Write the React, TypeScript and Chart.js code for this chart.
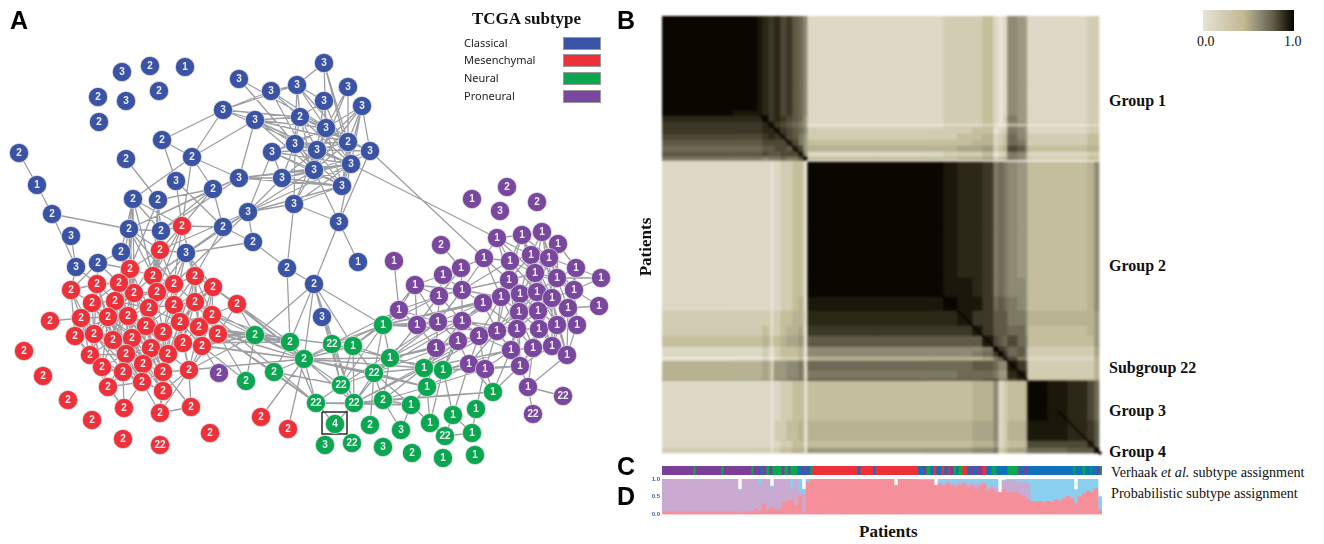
import React, { useEffect, useRef } from "react";
import { Chart, registerables } from "chart.js";

Chart.register(...registerables);

// ---------- Panel A: network nodes (layout coordinates) ----------
const classicalX = [122,150,185,159,98,126,99,19,37,52,71,76,98,121,129,161,186,133,158,176,126,162,192,213,239,223,248,253,287,223,239,271,255,297,324,348,324,362,300,326,348,370,317,295,272,282,314,351,342,294,339,358,314,322];
const classicalY = [72,66,67,91,97,101,122,153,185,214,236,267,263,252,229,231,253,199,200,181,159,140,157,189,178,227,212,242,268,110,79,91,120,85,63,87,101,106,117,128,142,151,150,144,152,178,170,164,186,204,222,262,284,317];
const classicalTags = ["3","2","1","2","2","3","2","2","1","2","3","3","2","2","2","2","3","2","2","3","2","2","2","2","3","2","3","2","2","3","3","3","3","3","3","3","3","3","2","3","2","3","3","3","3","3","3","3","3","3","3","1","2","3"];

const mesenchymalX = [182,160,130,153,195,213,174,157,134,119,97,71,92,115,149,174,195,237,212,81,108,128,146,180,199,218,50,75,94,113,132,163,183,202,151,168,126,90,143,102,123,163,189,108,142,163,124,160,191,24,43,68,92,123,160,210,261,288];
const mesenchymalY = [226,250,269,276,276,287,284,292,293,283,284,290,303,301,308,305,302,304,315,318,317,316,326,322,327,334,321,336,334,340,338,332,343,346,348,354,354,355,364,367,372,372,370,387,382,391,408,413,407,351,376,400,420,439,445,433,417,429];
const mesenchymalTags = ["2","2","2","2","2","2","2","2","2","2","2","2","2","2","2","2","2","2","2","2","2","2","2","2","2","2","2","2","2","2","2","2","2","2","2","2","2","2","2","2","2","2","2","2","2","2","2","2","2","2","2","2","2","2","22","2","2","2"];

const neuralX = [255,290,304,274,246,316,332,353,383,390,374,341,354,383,411,427,424,443,493,476,453,430,401,370,335,325,352,383,412,443,475,445,472];
const neuralY = [335,342,359,372,381,403,344,346,325,358,373,385,403,400,405,387,368,370,392,409,415,423,430,425,424,445,443,447,453,458,455,436,433];
const neuralTags = ["2","2","2","2","2","22","22","1","1","1","22","22","22","2","1","1","1","1","1","1","1","1","3","2","4","3","22","3","2","1","1","22","1"];

const proneuralX = [472,507,500,537,441,394,497,522,542,558,484,510,531,549,461,443,415,462,439,399,535,509,557,576,601,599,574,501,483,520,537,552,568,519,538,417,438,462,517,497,539,557,577,479,458,436,511,533,552,567,520,469,485,528,563,533,219];
const proneuralY = [199,187,211,202,245,261,238,235,232,244,258,261,255,258,268,275,285,290,296,310,273,280,278,268,278,306,290,297,303,294,292,298,308,312,311,325,322,321,329,331,329,325,325,336,341,348,350,348,346,355,366,364,369,387,396,414,373];
const proneuralTags = ["1","2","3","2","2","1","1","1","1","1","1","1","1","1","1","1","1","1","1","1","1","1","1","1","1","1","1","1","1","1","1","1","1","1","1","1","1","1","1","1","1","1","1","1","1","1","1","1","1","1","1","1","1","1","22","22","2"];

const subtypeNames = ["Classical", "Mesenchymal", "Neural", "Proneural"];

// edges: source>targets (targets inherit the source's subtype letter unless prefixed)
const networkEdges =
  "b7>8 b8>9 b9>14,11 b10>11 b20>18 b21>19,22,29 b22>17,23,24,29,32,r0 b17>14,r0,15,13 b18>15,23 b19>r0,25 b23>24,25,r0 b14>23,24 b15>23,24 " +
  "b24>45,46,47,48 b25>26,27,r0,16 b26>44,45,46,47,48,49,r1 b27>28,16,26 b32>24,38,39,40,46,47,43,42 b29>32,33,38,42,31 b30>39,43 b31>38,40,46,33 " +
  "b33>34,36,38,39,43,40 b34>47,40,39 b35>39,40,46 b36>38,39,47,42 b37>39,40,47,46,42,41,48 b38>39,40,42,43,46,47 b39>40,41,42,43,44,46,47,48 " +
  "b40>41,42,43,46,47,48 b41>42,46,47,50,p10 b42>43,44,46,47,48,45,49 b43>44,45,46,47,48,49 b44>45,46,47,48 b45>46,47,48 b46>47,48,49,50 b47>48,49,50,p6 " +
  "b48>49 b49>50,28 b50>51,52 b52>28,g0,g1,g2,g6,g7,g8,g11,g12 b28>g1 " +
  "b13>12,r2,r8 b14>15,r1,r3,r6,r2,r9,r8 b15>r1,r3,r0 b16>r1,r3,r4,r5,r6,r7,r15 b12>r2,r9,r10,r11 b11>r11,r10 b17>r2,r3,r7,r8 b18>r2,r3,r7 b25>r4 b26>r3,r6 " +
  "r0>1,3,6,7,4 r1>3,6,7,8,14,2 r2>3,8,9,13,14,21,22,30,29 r3>6,7,8,14,15,22,31,23 r4>5,6,7,15,16,18,23,24,32 r5>15,16,18,23,24,33 r6>7,14,15,16,23,31,22 " +
  "r7>8,13,14,15,21,22,30 r8>9,13,14,20,21,22,30,29 r9>10,12,13,20,21,28,29,30 r10>11,12,13,19,20,28,29 r11>12,19,27,28 r12>13,19,20,27,28,29,36,30 " +
  "r13>14,20,21,22,29,30,36,34 r14>15,21,22,23,30,31,34,35 r15>16,22,23,24,31,32,35,41 r16>18,23,24,33,25,32,35 r17>18,25 r18>23,24,25,33 " +
  "r19>20,26,27,28,37,29,39 r20>21,27,28,29,30,36,37,34,38,39 r21>22,29,30,31,34,36,38,40,35 r22>23,30,31,34,35,36,38,41,44,40 r23>24,31,32,33,35,41,42 " +
  "r24>25,32,33,42 r25>33,42 r27>28,29,37,39 r28>29,36,37,39,40,43,44 r29>30,36,37,39,40,44,38 r30>31,34,36,38,40,44,41,45 r31>32,34,35,38,41,44,45 " +
  "r32>33,35,41,42 r33>42 r34>35,36,38,41,44,45 r35>38,41,42,45 r36>37,38,39,40,43,44 r37>39,40,43 r38>40,41,44,45 r39>40,43,44 r40>43,44,45,46 " +
  "r41>42,44,45,47 r42>45,47,48 r43>44,46 r44>45,46,47 r45>47 r46>44 r47>42,48 r48>41 " +
  "r17>g0,g1,g2 r5>g1,g2 r18>g1,g2,g5 r24>g1,g2,g6 r25>g0,g1,g2,g3,g4,g5 r33>g0,g2,p56,g4 r42>g0,g2 r56>g2 r57>g2 r16>g2 r32>g2,g1 " +
  "g0>1,2,4 g1>2,3,5 g2>3,5,6,7,8,9,10,11,12,15,16 g3>5,11 g6>8,11,9,12,p19 g7>8,10,11,12,9,p19 g8>9,10,11,p19,p16,p18,p35,p36,p28,p27,p39 " +
  "g9>10,12,13,p35,p36,p45,16,17,p39,p27 g10>11,12,13,15,14,23,p44,p37 g11>12,5,p36 g12>5,13,14,16,p43,p39 g13>14,22,15,p44 g14>15,22,21 " +
  "g15>16,21,p45,p51,p52 g16>17,p45,p44,10,p37,p39,p46 g17>p51,p44,p37,20,21,p46,p50,p52 g18>p52,p51,12,13,p50,p46 g19>p52,32 g20>31,p51,32 g31>32,21 g24>12,5 g5>12,14 " +
  "p4>14 p5>19 p14>10,17,18 p15>16,17,18,10,14 p16>17,18,19,35,36 p17>18,10,21,27,28,11,36,37 p18>19,35,36,37 p19>35,36 p35>36,45 p36>37,45,28,44 " +
  "p37>28,27,43,44,39,38 p28>27,29,39,38,21 p10>6,11,21,27 p6>7,11,12,21,20 p7>8,11,12,13,20,21,30 p8>9,12,13,20,22,31 p9>13,22,23,20 p11>12,20,21,29,27,30,33 " +
  "p12>13,20,21,29,30,22,31 p13>20,22,23,26,30,31 p20>21,22,26,29,30,31,33,34,40,41 p21>27,29,30,33,38,39 p22>23,26,24,30,31,32 p23>24,26,32 p24>26 p25>26,32 " +
  "p26>31,32,41,42 p27>29,33,38,39,43 p29>30,33,34,38,40,39,46 p30>31,33,34,40,41,38,47 p31>32,34,40,41,48,47,49 p32>41,42,48,49 p33>34,38,39,40,46,47,43,50 " +
  "p34>38,40,41,47,48 p38>39,40,43,46,47,50 p39>43,44,46,52,51 p40>41,47,48,49 p41>42,48,49 p42>49 p43>44,46,51,52 p44>45,51 p46>47,50,52 p47>48,50,53 " +
  "p48>49,50 p49>53 p50>52,53 p51>52 p53>54,55";

// ---------- Panel B: co-clustering matrix, run-length coded over patient bands ----------
const bandEdges = [0,70,95,100,106,112,118,124,130,136,141,145,215,262,281,295,310,320,331,336,341,345,355,363,365,385,405,425,432,437];
const coClusterRows = [
  "ffedcdbca97"+"1112223101765"+"11122",
  "ffedcdbca97"+"1112223101765"+"11122",
  "feedcdbca97"+"1112223101765"+"11122",
  "dddfcdcba96"+"1112223102865"+"11122",
  "cccdecba986"+"1112223101765"+"11122",
  "cccddecba97"+"2222233012875"+"11122",
  "bbbcdcdba86"+"2222334123976"+"22233",
  "aaabbbbdb86"+"3333344123986"+"22233",
  "999aabbadb6"+"4444556234ba7"+"33344",
  "aaabaabbbd7"+"1112223012875"+"11122",
  "888788988ae"+"3333445234875"+"22233",
  "11111122331"+"fffeddc898766"+"33347",
  "11111122331"+"fffeddc898766"+"33347",
  "11111122331"+"fffeedc898776"+"33347",
  "11111122341"+"eeefeec9a9876"+"33347",
  "22222233442"+"ddddeccaaa887"+"44446",
  "22232234451"+"cccccecaaa997"+"33346",
  "33343345562"+"aaaaaaeba9b98"+"33336",
  "11121233341"+"7777778fcb9a7"+"22225",
  "11121233341"+"7777789cfc9a7"+"22225",
  "00010122230"+"44444458adb86"+"11114",
  "44454667783"+"99999aa977eca"+"22224",
  "44454667783"+"8888999866deb"+"22224",
  "55565778894"+"aaaaaabb88bce"+"33335",
  "11111122332"+"3333344712334"+"fedb9",
  "11111122332"+"3333344712334"+"fedb9",
  "11111223342"+"4444455712445"+"eedca",
  "11111122332"+"3333344612334"+"bbbda",
  "22222233443"+"6666677823556"+"99aaf",
];
const diagonalRuns = [[98,99,145,144],[275,274,365,364],[395,394,438,437]];
const lightStripes = [[144,145,438,145],[144,145,144,437],[110,145,110,437],[145,109,437,109]];
const colourBarTicks = ["0.0", "1.0"];
const groupNames = ["Group 1", "Group 2", "Subgroup 22", "Group 3", "Group 4"];

// ---------- Panel C ----------
const verhaakEnds = [31,33,59,61,89,91,97,100,104,107,110,119,122,126,128,135,139,141,144,146,148,150,195,198,211,213,256,261,264,268,271,274,279,282,286,288,291,294,296,300,305,308,311,314,320,324,329,334,345,356,358,362,365,411,413,420,423,428,429,435,438,440];
const verhaakTypes = "PGPGPGPBPGPGPGPGBPBPBGRBRBRBPGBRBRBRPGBGRBPBPRBGBGPBPBGBGBGBPG";

// ---------- Panel D ----------
const pMesenchymal = [.07,.07,.07,.07,.07,.07,.07,.07,.07,.07,.07,.07,.07,.07,.07,.07,.07,.07,.07,.04,.07,.07,.08,.15,.1,.3,.12,.2,.14,.12,.33,.38,.42,.25,.5,.04,.93,.97,.99,.99,.99,.99,.99,.99,.99,.99,.99,.99,.99,.99,.99,.99,.99,.99,.99,.99,.99,.99,.8,.99,.99,.99,.98,.98,.97,.96,.95,.96,.8,.84,.78,.88,.8,.76,.82,.86,.74,.8,.7,.78,.85,.66,.72,.6,.62,.7,.62,.6,.62,.55,.5,.42,.36,.35,.36,.34,.36,.34,.42,.38,.44,.5,.45,.3,.5,.58,.66,.62,.72,.1];
const pProneural = [.93,.93,.93,.93,.93,.93,.93,.93,.93,.93,.93,.93,.93,.93,.93,.93,.93,.93,.93,.62,.93,.93,.92,.85,.72,.7,.88,.55,.84,.88,.67,.62,.3,.75,.15,.55,0,0,0,0,0,0,0,0,0,0,0,0,0,0,0,0,0,0,0,0,0,0,0,0,0,0,0,0,0,0,0,0,0,.05,.08,.04,.06,.1,.08,.06,.12,.08,.15,.08,.05,.1,.1,.14,0,.22,.34,.35,.32,.38,.42,.45,0,0,0,0,0,0,0,0,0,0,0,0,0,0,0,0,0,.05];
const pClassical = [0,0,0,0,0,0,0,0,0,0,0,0,0,0,0,0,0,0,0,.05,0,0,0,0,.18,0,0,.05,.02,0,0,0,.28,0,.35,.12,.07,.03,.01,.01,.01,.01,.01,.01,.01,.01,.01,.01,.01,.01,.01,.01,.01,.01,.01,.01,.01,.01,.02,.01,.01,.01,.02,.02,.03,.04,.05,.04,.02,.11,.14,.08,.14,.14,.1,.08,.14,.12,.15,.14,.1,.24,.18,.26,0,.05,.04,.05,.06,.07,.08,.13,.64,.65,.64,.66,.64,.66,.58,.62,.56,.5,.55,.4,.5,.42,.34,.38,.28,.35];
const probabilityTicks = ["1.0", "0.5", "0.0"];

// ---------- styles ----------
const NODE = { b: "#3a53a4", r: "#ee3039", g: "#0aa650", p: "#7a479e" };
const STRIP: Record<string, string> = { P: "#7b3f98", G: "#0aa650", B: "#0f72ba", R: "#ee3039" };
const RAMP = ["#e8e5d8","#dcd8c5","#d2cdb2","#c4be9c","#b8b292","#aaa588","#9c987f","#8d8a73","#7d7a64","#6e6a55","#5e5a46","#4d4937","#3c3828","#2c2817","#1a170b","#0a0700"];
const SERIF = '"Liberation Serif", serif';
const SANS = '"Liberation Sans", sans-serif';

const noPlugins = { legend: { display: false }, tooltip: { enabled: false }, title: { display: false } };
const hidden = (extra: any) => ({ display: false, grid: { display: false }, offset: false, ...extra });

function buildNetworkChart(canvas: HTMLCanvasElement) {
  const coords: Record<string, { x: number[]; y: number[] }> = {
    b: { x: classicalX, y: classicalY },
    r: { x: mesenchymalX, y: mesenchymalY },
    g: { x: neuralX, y: neuralY },
    p: { x: proneuralX, y: proneuralY },
  };
  const edgePoints: any[] = [];
  for (const tok of networkEdges.split(" ")) {
    if (!tok) continue;
    const [src, targets] = tok.split(">");
    const sk = src[0];
    const si = +src.slice(1);
    for (const t of targets.split(",")) {
      const hasPrefix = /^[brgp]/.test(t);
      const tk = hasPrefix ? t[0] : sk;
      const ti = +(hasPrefix ? t.slice(1) : t);
      edgePoints.push(
        { x: coords[sk].x[si], y: coords[sk].y[si] },
        { x: coords[tk].x[ti], y: coords[tk].y[ti] },
        { x: coords[tk].x[ti], y: null },
      );
    }
  }
  const nodeSet = (label: string, xs: number[], ys: number[], tags: string[], color: string) => ({
    label,
    data: xs.map((x, i) => ({ x, y: ys[i], tag: tags[i] })),
    backgroundColor: color,
    borderColor: "rgba(225,225,230,0.9)",
    borderWidth: 0.8,
    pointRadius: 9.6,
    order: 1,
  });
  const tagPlugin = {
    id: "nodeTags",
    afterDatasetsDraw(chart: any) {
      const ctx = chart.ctx;
      ctx.save();
      ctx.textAlign = "center";
      ctx.textBaseline = "middle";
      ctx.fillStyle = "#eef1f8";
      ctx.font = `bold 10px ${SANS}`;
      chart.data.datasets.forEach((ds: any, di: number) => {
        if (!ds.isNodes) return;
        const meta = chart.getDatasetMeta(di);
        meta.data.forEach((el: any, i: number) => {
          ctx.fillText(ds.data[i].tag, el.x, el.y + 0.5);
        });
      });
      ctx.restore();
    },
  };
  return new Chart(canvas, {
    type: "scatter",
    data: {
      datasets: [
        { label: "edges", data: edgePoints, showLine: true, spanGaps: false, borderColor: "#9c9ea1", borderWidth: 1.3, pointRadius: 0, order: 5 },
        { label: "marker", data: [{ x: 322, y: 412 }, { x: 347, y: 412 }, { x: 347, y: 434 }, { x: 322, y: 434 }, { x: 322, y: 412 }], showLine: true, borderColor: "#2b2b2b", borderWidth: 1.5, pointRadius: 0, order: 3 },
        { ...nodeSet(subtypeNames[0], classicalX, classicalY, classicalTags, NODE.b), isNodes: true },
        { ...nodeSet(subtypeNames[1], mesenchymalX, mesenchymalY, mesenchymalTags, NODE.r), isNodes: true },
        { ...nodeSet(subtypeNames[2], neuralX, neuralY, neuralTags, NODE.g), isNodes: true },
        { ...nodeSet(subtypeNames[3], proneuralX, proneuralY, proneuralTags, NODE.p), isNodes: true },
      ] as any,
    },
    options: {
      animation: false, responsive: false, events: [],
      layout: { padding: 0, autoPadding: false },
      plugins: noPlugins as any,
      scales: {
        x: hidden({ type: "linear", min: 0, max: 640 }),
        y: hidden({ type: "linear", min: 0, max: 544, reverse: true }),
      } as any,
    },
    plugins: [tagPlugin] as any,
  });
}

function buildHeatmapChart(canvas: HTMLCanvasElement) {
  const datasets: any[] = [];
  for (let c = 0; c < bandEdges.length - 1; c++) {
    const x0 = bandEdges[c];
    const x1 = bandEdges[c + 1];
    datasets.push({
      type: "bar",
      data: coClusterRows.map((_, r) => ({ x: (x0 + x1) / 2, y: [bandEdges[r], bandEdges[r + 1]] })),
      backgroundColor: coClusterRows.map((row) => RAMP[parseInt(row[c], 16)]),
      barThickness: x1 - x0,
      grouped: false,
      order: 5,
    });
  }
  for (const [a, b, c, d] of diagonalRuns) {
    datasets.push({ type: "line", data: [{ x: a, y: b }, { x: c, y: d }], borderColor: "#050300", borderWidth: 1.6, pointRadius: 0, order: 1 });
  }
  lightStripes.forEach(([a, b, c, d], i) => {
    datasets.push({ type: "line", data: [{ x: a, y: b }, { x: c, y: d }], borderColor: "#f4f2ea", borderWidth: i < 2 ? 1.5 : 1.2, pointRadius: 0, order: 2 });
  });
  datasets.push({ type: "scatter", data: [{ x: 438, y: 437 }], pointStyle: "rect", pointRadius: 2.2, backgroundColor: "#000", borderWidth: 0, order: 0 });
  return new Chart(canvas, {
    type: "bar",
    data: { datasets },
    options: {
      animation: false, responsive: false, events: [],
      layout: { padding: 0, autoPadding: false },
      plugins: noPlugins as any,
      scales: {
        x: hidden({ type: "linear", min: 0, max: 442 }),
        y: hidden({ type: "linear", min: 0, max: 442, reverse: true }),
      } as any,
    },
  });
}

function buildStripChart(canvas: HTMLCanvasElement) {
  const datasets = verhaakEnds.map((end, i) => ({
    data: [[i === 0 ? 0 : verhaakEnds[i - 1], end]],
    backgroundColor: STRIP[verhaakTypes[i]],
    grouped: false,
    barPercentage: 1,
    categoryPercentage: 1,
  }));
  return new Chart(canvas, {
    type: "bar",
    data: { labels: ["Verhaak"], datasets: datasets as any },
    options: {
      indexAxis: "y", animation: false, responsive: false, events: [],
      layout: { padding: 0 },
      plugins: noPlugins as any,
      scales: {
        x: hidden({ type: "linear", min: 0, max: 440 }),
        y: { display: false, grid: { display: false } },
      } as any,
    },
  });
}

function buildProbabilityChart(canvas: HTMLCanvasElement) {
  const patient = pMesenchymal.map((_, i) => String(i + 1));
  const part = (data: number[], color: string, label: string) => ({
    label, data, backgroundColor: color, barPercentage: 1, categoryPercentage: 1, stack: "p",
  });
  return new Chart(canvas, {
    type: "bar",
    data: {
      labels: patient,
      datasets: [
        part(pMesenchymal, "#f58f99", "Mesenchymal"),
        part(pProneural, "#c9aad0", "Proneural"),
        part(pClassical, "#8ad0ee", "Classical"),
      ],
    },
    options: {
      animation: false, responsive: false, events: [],
      layout: { padding: { top: 9, bottom: 4, left: 0, right: 0 } },
      plugins: noPlugins as any,
      scales: {
        x: { display: false, stacked: true, grid: { display: false } },
        y: {
          stacked: true, min: 0, max: 1,
          grid: { display: false, drawTicks: false }, border: { display: false },
          afterFit: (s: any) => { s.width = 22; },
          afterBuildTicks: (s: any) => { s.ticks = probabilityTicks.map((t) => ({ value: +t })); },
          ticks: { callback: (v: any) => Number(v).toFixed(1), font: { size: 6, weight: "bold", family: SANS }, color: "#3b5f8f", padding: 2, autoSkip: false },
        },
      } as any,
    },
  });
}

function Label(p: { x: number; y: number; children: React.ReactNode; style?: React.CSSProperties }) {
  return (
    <div style={{ position: "absolute", left: p.x, top: p.y, transform: "translateY(-50%)", whiteSpace: "nowrap", lineHeight: 1, color: "#111", fontFamily: SERIF, ...p.style }}>
      {p.children}
    </div>
  );
}

export default function App() {
  const net = useRef<HTMLCanvasElement>(null);
  const heat = useRef<HTMLCanvasElement>(null);
  const strip = useRef<HTMLCanvasElement>(null);
  const prob = useRef<HTMLCanvasElement>(null);

  useEffect(() => {
    const charts = [
      buildNetworkChart(net.current!),
      buildHeatmapChart(heat.current!),
      buildStripChart(strip.current!),
      buildProbabilityChart(prob.current!),
    ];
    return () => charts.forEach((c) => c.destroy());
  }, []);

  const legendColors = [NODE.b, NODE.r, NODE.g, NODE.p];
  const legendY = [43, 60, 78, 96];
  const panel = { fontFamily: SANS, fontWeight: 700, fontSize: 25, color: "#000" } as React.CSSProperties;
  const group = { fontWeight: 700, fontSize: 16 } as React.CSSProperties;
  const groupY = [101, 266, 368, 411, 452];

  return (
    <div style={{ position: "fixed", left: 0, top: 0, width: 1324, height: 544, background: "#fff", overflow: "hidden" }}>
      <canvas ref={net} width={640} height={544} style={{ position: "absolute", left: 0, top: 0, filter: "blur(0.35px)" }} />
      <canvas ref={heat} width={442} height={442} style={{ position: "absolute", left: 662, top: 16, filter: "blur(0.8px)" }} />
      <canvas ref={strip} width={440} height={9} style={{ position: "absolute", left: 662, top: 466 }} />
      <canvas ref={prob} width={462} height={50} style={{ position: "absolute", left: 640, top: 470, filter: "blur(0.3px)" }} />

      <Label x={10} y={20} style={panel}>A</Label>
      <Label x={617} y={20} style={panel}>B</Label>
      <Label x={617} y={466} style={panel}>C</Label>
      <Label x={617} y={496} style={panel}>D</Label>

      <Label x={472} y={18} style={{ fontWeight: 700, fontSize: 17 }}>TCGA subtype</Label>
      {subtypeNames.map((n, i) => (
        <React.Fragment key={n}>
          <Label x={464} y={legendY[i] - 1} style={{ fontFamily: '"Noto Sans", sans-serif', fontSize: 11, color: "#222" }}>{n}</Label>
          <div style={{ position: "absolute", left: 563, top: legendY[i] - 6, width: 36, height: 11, background: legendColors[i], border: "1px solid #9a9a9a" }} />
        </React.Fragment>
      ))}

      <div style={{ position: "absolute", left: 1203, top: 10, width: 91, height: 21, background: "linear-gradient(to right,#e6e3d3 0%,#d4cfb6 20%,#c2b892 45%,#8d8a73 62%,#5e5a46 78%,#2c2817 90%,#050300 100%)" }} />
      <Label x={1197} y={42} style={{ fontSize: 14 }}>{colourBarTicks[0]}</Label>
      <Label x={1284} y={42} style={{ fontSize: 14 }}>{colourBarTicks[1]}</Label>

      {groupNames.map((g, i) => (
        <Label key={g} x={1109} y={groupY[i]} style={group}>{g}</Label>
      ))}
      <div style={{ position: "absolute", left: 645, top: 247, transform: "translate(-50%,-50%) rotate(-90deg)", fontFamily: SERIF, fontWeight: 700, fontSize: 17, color: "#111", whiteSpace: "nowrap", lineHeight: 1 }}>Patients</div>
      <Label x={1111} y={472} style={{ fontSize: 14.2 }}>Verhaak <i>et al.</i> subtype assignment</Label>
      <Label x={1111} y={493} style={{ fontSize: 14.2 }}>Probabilistic subtype assignment</Label>
      <Label x={859} y={531} style={{ fontWeight: 700, fontSize: 17 }}>Patients</Label>
    </div>
  );
}
